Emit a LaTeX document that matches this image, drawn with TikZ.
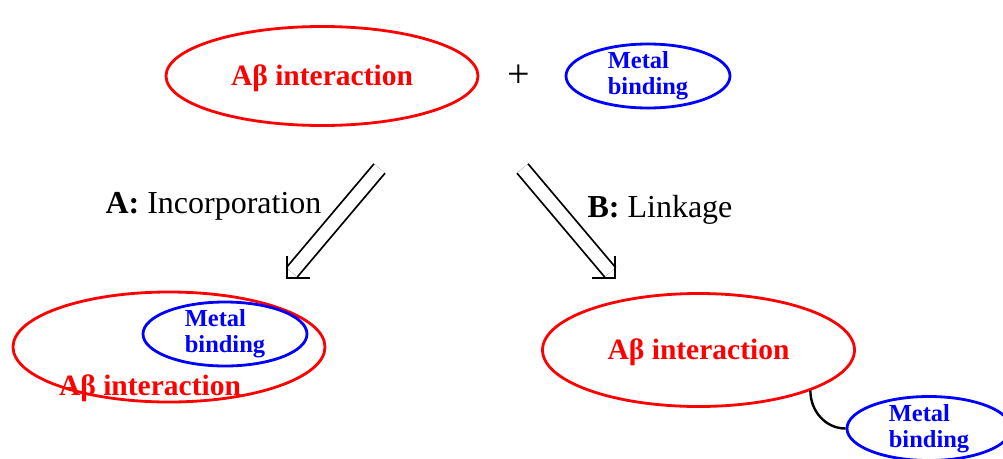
\documentclass[tikz,border=0pt]{standalone}
\usepackage{fontspec}
\setmainfont{Liberation Serif}
\usetikzlibrary{shapes.geometric}

\begin{document}
\begin{tikzpicture}[x=1pt, y=1pt,
  redoval/.style={draw=red, line width=2.8pt, ellipse, minimum width=312pt,
    minimum height=99pt, inner sep=0pt, text=red, text height=19pt, text depth=0pt,
    font=\fontsize{29.5}{32}\selectfont\bfseries},
  redtext/.style={text=red, inner sep=0pt, text height=19pt, text depth=0pt,
    font=\fontsize{29.5}{32}\selectfont\bfseries},
  blueoval/.style={draw=blue, line width=2.8pt, ellipse, minimum width=164pt,
    minimum height=64pt, inner sep=-8pt, text=blue, align=left,
    font=\fontsize{24.5}{26}\selectfont\bfseries},
  lbl/.style={inner sep=0pt, anchor=base, font=\fontsize{32}{34}\selectfont},
  dblarrow/.style={line width=1.8pt, double distance=12.5pt, shorten >=7.5pt},
  tipline/.style={line width=1.8pt, line join=miter},
]
\useasboundingbox (0,0) rectangle (1003,-458);

% top row
\node[redoval] (abTop) at (322,-76) {Aβ interaction};
\node[font=\fontsize{40}{40}\selectfont] (plus) at (519,-76) {+};
\node[blueoval] (metalTop) at (648,-76) {Metal\\binding};

% the two routes
\coordinate (incStart) at (379.5,-168.5);
\coordinate (incTip) at (287,-278);
\coordinate (linkStart) at (522.5,-168.5);
\coordinate (linkTip) at (615,-278);

\draw[dblarrow] (incStart) -- (incTip);
\draw[tipline] ([xshift=23pt]incTip) -- (incTip) -- ([yshift=22pt]incTip);
\draw[dblarrow] (linkStart) -- (linkTip);
\draw[tipline] ([xshift=-23pt]linkTip) -- (linkTip) -- ([yshift=22pt]linkTip);

\node[lbl] (labInc) at (213.5,-213) {\textbf{A:} Incorporation};
\node[lbl] (labLink) at (660,-217) {\textbf{B:} Linkage};

% A: incorporation
\node[redoval, minimum height=110pt] (abLeft) at (169,-347) {};
\node[blueoval] (metalLeft) at (225,-334) {Metal\\binding};
\node[redtext] (abLeftText) at (150,-386) {Aβ interaction};

% B: linkage
\node[redoval, minimum height=113pt] (abRight) at (698.5,-350) {Aβ interaction};
\node[blueoval] (metalRight) at (929,-428.5) {Metal\\binding};
\draw[line width=2.4pt] (abRight.-20) to[out=-90, in=180] (metalRight.west);

\end{tikzpicture}
\end{document}
